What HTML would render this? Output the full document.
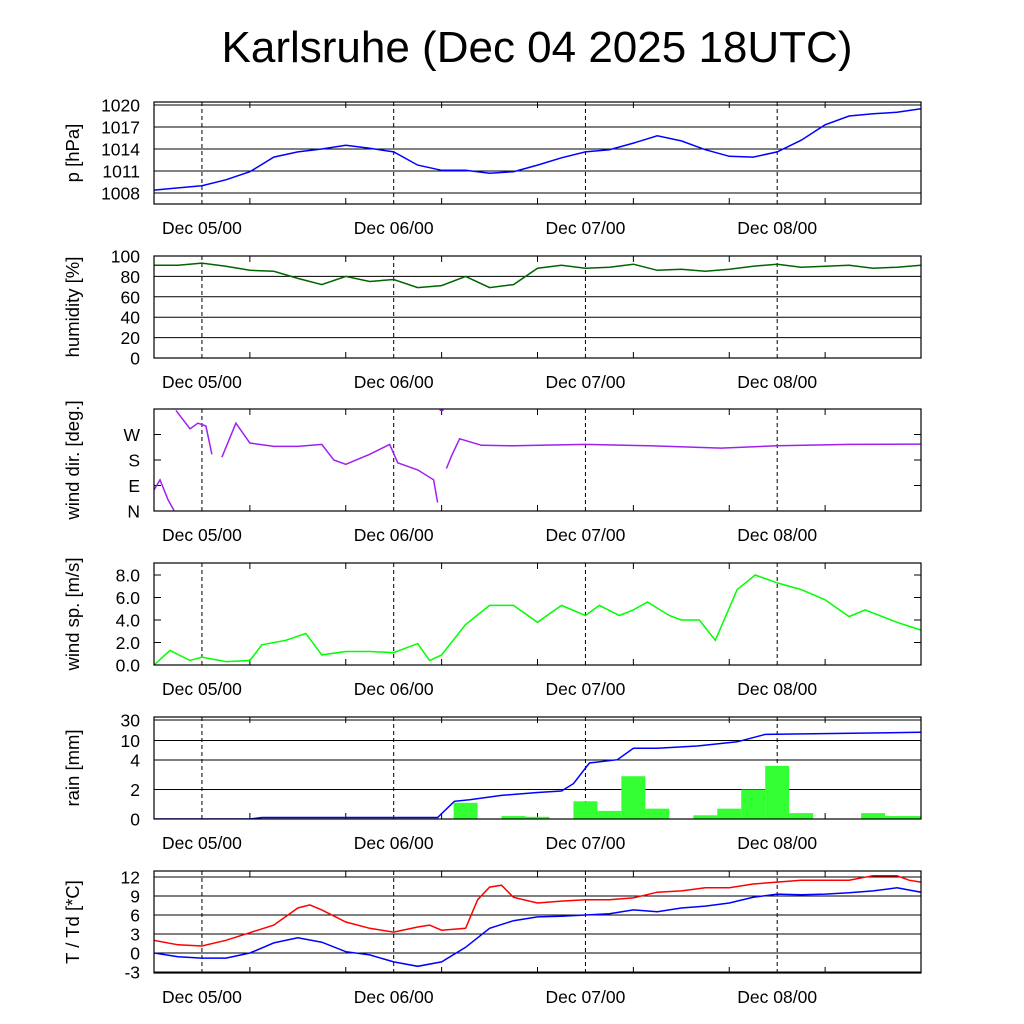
<!DOCTYPE html>
<html><head><meta charset="utf-8">
<style>
body{margin:0;background:#fff;}
svg{display:block;font-family:"Liberation Sans",sans-serif;}
</style></head>
<body>
<svg id="chart" width="1024" height="1024" viewBox="0 0 1024 1024">
<text x="537" y="62" font-size="44" text-anchor="middle">Karlsruhe (Dec 04 2025 18UTC)</text>
</svg>
<script>
// time in hours from Dec 04 18UTC
const pT=[0,3,6,9,12,15,18,21,24,27,30,33,36,39,42,45,48,51,54,57,60,63,66,69,72,75,78,81,84,87,90,93,96];
const pressure=[1008.4,1008.7,1009,1009.8,1010.9,1012.9,1013.6,1014,1014.5,1014.1,1013.6,1011.8,1011.1,1011.1,1010.7,1010.9,1011.8,1012.8,1013.6,1013.9,1014.8,1015.8,1015.1,1013.9,1013,1012.9,1013.6,1015.2,1017.3,1018.5,1018.8,1019,1019.5];
const humidity=[91,91,93,90,86,85,78,72,80,75,77,69,71,80,69,72,88,91,88,89,92,86,87,85,87,90,92,89,90,91,88,89,91];
const dirT=[0,0.75,1.75,2.5,2.75,4.5,5.5,6.5,7.25,7.6,8.5,10.25,12,15,18,21,22.5,24,27,29.5,30.5,33,35,35.5,35.75,36.25,36.6,37.25,38.25,41,45,54,62,71,78,87,96];
const windDir=[74,110,40,2,355,290,310,300,200,5,190,310,240,228,228,235,180,165,200,235,170,145,110,30,355,355,150,195,255,232,230,235,230,222,230,235,236];
const spdT=[0,2,4.5,6,9,12,13.5,16.5,19,21,24,27,30,33,34.5,36,39,42,45,48,51,54,55.75,58.25,60,61.75,64.5,66,68.25,70.25,73,75.25,78,81,84,87,89,93,96];
const windSpeed=[0,1.3,0.4,0.7,0.3,0.4,1.8,2.2,2.8,0.9,1.2,1.2,1.1,1.9,0.4,0.9,3.6,5.3,5.3,3.8,5.3,4.4,5.3,4.4,4.9,5.6,4.4,4,4,2.2,6.7,8,7.3,6.7,5.8,4.3,4.9,3.8,3.1];
const rainBarT=[39,45,48,54,57,60,63,69,72,75,78,81,90,93,96];
const rainBars=[1.1,0.2,0.15,1.2,0.55,2.9,0.7,0.25,0.7,2.0,3.6,0.4,0.4,0.2,0.2];
const rainSumT=[0,12,13.5,35.5,37.6,39.5,43.5,48,51,52.5,54.5,58,60,63,68,73,76.5,96];
const rainSum=[0,0,0.1,0.1,1.2,1.3,1.6,1.8,1.9,2.4,3.8,4.1,7.6,7.6,8.3,9.6,16,18];
const tT=[0,3,6,9,12,15,18,19.5,21,24,27,30,33,34.5,36,39,40.5,42,43.5,45,48,51,54,57,60,63,66,69,72,75,78,81,84,87,90,93,94.5,96];
const temp=[2,1.3,1.1,2,3.2,4.4,7.1,7.6,6.8,4.9,3.9,3.3,4.1,4.4,3.6,3.9,8.4,10.4,10.7,8.8,7.9,8.2,8.4,8.4,8.7,9.6,9.8,10.3,10.3,10.9,11.2,11.5,11.5,11.5,12.2,12.2,11.5,11.2];
const tdT=[0,3,6,9,12,15,18,21,24,27,30,33,36,39,42,45,48,51,54,57,60,63,66,69,72,75,78,81,84,87,90,93,96];
const dewpoint=[0,-0.6,-0.8,-0.8,0,1.6,2.4,1.7,0.2,-0.3,-1.4,-2.1,-1.4,0.9,3.9,5.1,5.7,5.8,6,6.2,6.8,6.5,7.1,7.4,7.9,8.8,9.3,9.2,9.3,9.5,9.8,10.3,9.6];
const dayT=[6,30,54,78];
const dayLabels=["Dec 05/00","Dec 06/00","Dec 07/00","Dec 08/00"];

const NS="http://www.w3.org/2000/svg";
const svg=document.getElementById('chart');
const X0=154,X1=921;
const xs=h=>X0+h*(X1-X0)/96;
function el(t,a,p){const e=document.createElementNS(NS,t);for(const k in a)e.setAttribute(k,a[k]);(p||svg).appendChild(e);return e;}
function lin(d0,d1,r0,r1){return v=>r0+(v-d0)*(r1-r0)/(d1-d0);}

const panels=[
 {top:102,label:"p [hPa]",ticks:[1008,1011,1014,1017,1020],fmt:v=>v,y:lin(1008,1020,193,105),name:"pressure"},
 {top:256,label:"humidity [%]",ticks:[0,20,40,60,80,100],fmt:v=>v,y:lin(0,100,358,256),name:"humidity"},
 {top:409,label:"wind dir. [deg.]",ticks:[0,90,180,270],fmt:v=>({0:"N",90:"E",180:"S",270:"W"})[v],y:lin(0,360,511,409),name:"wind-direction",nogrid:true},
 {top:563,label:"wind sp. [m/s]",ticks:[0,2,4,6,8],fmt:v=>v.toFixed(1),y:lin(0,8,665,575),name:"wind-speed",nogrid:true},
 {top:717,label:"rain [mm]",ticks:[0,2,4,10,30],fmt:v=>v,y:v=>{const d=[0,2,4,10,30],r=[819,789.5,760,740.5,720];for(let i=0;i<4;i++){if(v<=d[i+1])return r[i]+(v-d[i])*(r[i+1]-r[i])/(d[i+1]-d[i]);}return 720;},name:"rain"},
 {top:871,label:"T / Td [*C]",ticks:[-3,0,3,6,9,12],fmt:v=>v,y:lin(0,12,953,877),name:"temperature"}
];
const H=102;
panels.forEach(p=>{
 const g=el('g',{});
 
 
 const cp=el('clipPath',{id:'c'+p.name},g);el('rect',{x:X0,y:p.top,width:X1-X0,height:H},cp);
 p.g=g;
 p.ticks.forEach(v=>{
  const y=p.y(v);
  if(!p.nogrid){const l=el('line',{x1:X0,x2:X1,y1:y,y2:y,stroke:'#000','stroke-width':1},g);}
  else{el('line',{x1:X0,x2:X0+7,y1:y,y2:y,stroke:'#000'},g);el('line',{x1:X1-7,x2:X1,y1:y,y2:y,stroke:'#000'},g);}
  const t=el('text',{x:X0-14,y:y+6.5,'font-size':17.5,'text-anchor':'end'},g);t.textContent=p.fmt(v);
  
 });
 dayT.forEach((d,i)=>{
  const x=xs(d);
  el('line',{x1:x,x2:x,y1:p.top,y2:p.top+H,stroke:'#000','stroke-dasharray':'4,3'},g);
  const t=el('text',{x:x,y:p.top+H+30,'font-size':17.5,'text-anchor':'middle'},g);t.textContent=dayLabels[i];
  
 });
 for(let h=0;h<=96;h+=12){if(h%24==6)continue;const x=xs(h);el('line',{x1:x,x2:x,y1:p.top+H-6,y2:p.top+H,stroke:'#000'},g);el('line',{x1:x,x2:x,y1:p.top,y2:p.top+6,stroke:'#000'},g);}
 const yl=el('text',{transform:`translate(${X0-75},${p.top+H/2}) rotate(-90)`,'font-size':18.5,'text-anchor':'middle'},g);yl.textContent=p.label;
 
});
function line(p,T,V,color,name,wrap){
 const g=el('g',{'clip-path':`url(#c${p.name})`},p.g);
 let d='';
 for(let i=0;i<T.length;i++){
  const cmd=(i==0||(wrap&&Math.abs(V[i]-V[i-1])>180))?'M':'L';
  d+=cmd+xs(T[i]).toFixed(1)+','+p.y(V[i]).toFixed(1);
 }
 const pa=el('path',{d:d,fill:'none',stroke:color,'stroke-width':1.5},g);
 
}
line(panels[0],pT,pressure,'#0000ff','pressure-line');
line(panels[1],pT,humidity,'#006400','humidity-line');
line(panels[2],dirT,windDir,'#a020f0','wind-direction-line',true);
line(panels[3],spdT,windSpeed,'#00ff00','wind-speed-line');
const rp=panels[4];
const rg=el('g',{'clip-path':'url(#crain)'},rp.g);
rainBarT.forEach((h,i)=>{
 const x=xs(h-1.5),w=xs(h+1.5)-x,y=rp.y(rainBars[i]);
 const r=el('rect',{x:x,y:y,width:w,height:819-y,fill:'#33ff33'},rg);
 
});
line(rp,rainSumT,rainSum,'#0000ff','rain-sum-line');
line(panels[5],tT,temp,'#ff0000','temperature-line');
line(panels[5],tdT,dewpoint,'#0000ff','dewpoint-line');
panels.forEach(p=>{const b=el('rect',{x:X0,y:p.top,width:X1-X0,height:H,fill:'none',stroke:'#000','stroke-width':1.2},p.g);});
</script>
</body></html>
